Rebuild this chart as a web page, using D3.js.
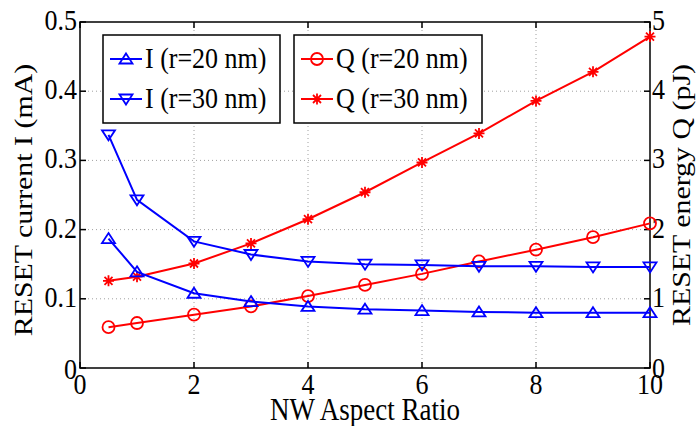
<!DOCTYPE html>
<html>
<head>
<meta charset="utf-8">
<script src="https://cdn.jsdelivr.net/npm/d3@7"></script>
<style>
  body { margin: 0; background: #fff; }
  text { font-family: "Liberation Serif", "DejaVu Serif", serif; fill: #000; }
</style>
</head>
<body>
<div id="chart"></div>
<script>
const aspect = [0.5, 1, 2, 3, 4, 5, 6, 7, 8, 9, 10];
const iR20 = [0.187, 0.139, 0.108, 0.096, 0.089, 0.085, 0.083, 0.081, 0.080, 0.080, 0.080];
const iR30 = [0.337, 0.243, 0.183, 0.164, 0.154, 0.150, 0.149, 0.147, 0.147, 0.146, 0.146];
const qR20 = [0.59, 0.65, 0.77, 0.89, 1.04, 1.20, 1.36, 1.54, 1.71, 1.89, 2.09];
const qR30 = [1.26, 1.32, 1.51, 1.80, 2.15, 2.54, 2.97, 3.39, 3.86, 4.28, 4.79];

const xTicks = [0, 2, 4, 6, 8, 10];
const iTicks = [0, 0.1, 0.2, 0.3, 0.4, 0.5];
const qTicks = [0, 1, 2, 3, 4, 5];

const width = 699, height = 426;
const pLeft = 80, pRight = 650, pTop = 22, pBottom = 368;
const fs = 26, stretch = 1.15;

const svg = d3.select('#chart').append('svg')
    .attr('width', width)
    .attr('height', height);

svg.append('rect').attr('width', width).attr('height', height).attr('fill', '#fff');

const x = d3.scaleLinear().domain([0, 10]).range([pLeft, pRight]);
const yI = d3.scaleLinear().domain([0, 0.5]).range([pBottom, pTop]);
const yQ = d3.scaleLinear().domain([0, 5]).range([pBottom, pTop]);

// text stretched a bit vertically, like the original picture
const label = function (px, py, str, anchor, rot, size) {
    const t = rot ? `translate(${px},${py}) rotate(${rot}) scale(${stretch},1)`
                  : `translate(${px},${py}) scale(1,${stretch})`;
    return svg.append('text')
        .attr('transform', t)
        .attr('text-anchor', anchor)
        .attr('font-size', size || fs)
        .text(str);
};

// grid
const grid = svg.append('g')
    .attr('stroke', '#a0a0a0')
    .attr('stroke-width', 1)
    .attr('stroke-dasharray', '1,3');
xTicks.slice(1, -1).forEach(function (d) {
    grid.append('line').attr('x1', x(d)).attr('x2', x(d)).attr('y1', pTop).attr('y2', pBottom);
});
iTicks.slice(1, -1).forEach(function (d) {
    grid.append('line').attr('x1', pLeft).attr('x2', pRight).attr('y1', yI(d)).attr('y2', yI(d));
});

// box + inward ticks
const axes = svg.append('g').attr('stroke', '#000').attr('stroke-width', 1.5).attr('fill', 'none');
axes.append('rect').attr('x', pLeft).attr('y', pTop).attr('width', pRight - pLeft).attr('height', pBottom - pTop);
xTicks.forEach(function (d) {
    axes.append('line').attr('x1', x(d)).attr('x2', x(d)).attr('y1', pBottom).attr('y2', pBottom - 6);
    axes.append('line').attr('x1', x(d)).attr('x2', x(d)).attr('y1', pTop).attr('y2', pTop + 6);
});
iTicks.forEach(function (d) {
    axes.append('line').attr('x1', pLeft).attr('x2', pLeft + 6).attr('y1', yI(d)).attr('y2', yI(d));
});
qTicks.forEach(function (d) {
    axes.append('line').attr('x1', pRight).attr('x2', pRight - 6).attr('y1', yQ(d)).attr('y2', yQ(d));
});

// tick labels
xTicks.forEach(function (d) {
    label(x(d), 394, d, 'middle');
});
iTicks.forEach(function (d, i) {
    label(77, yI(d) + (i === 0 ? 11 : 8), d === 0 ? '0' : d.toFixed(1), 'end');
});
qTicks.forEach(function (d, i) {
    label(652, yQ(d) + (i === 0 ? 10 : 8), d, 'start');
});

// axis titles
label(365, 420, 'NW Aspect Ratio', 'middle', 0, 27);
label(32, 200, 'RESET current I (mA)', 'middle', -90);
label(690, 195, 'RESET energy Q (pJ)', 'middle', -90);

// markers
const triUp = 'M0,-5.5L6.5,4.5L-6.5,4.5Z';
const triDown = 'M0,5.5L6.5,-4.5L-6.5,-4.5Z';
const star = 'M-5.5,0L5.5,0M0,-5.5L0,5.5M-4,-4L4,4M-4,4L4,-4';

const series = [
    { vals: qR20, y: yQ, color: '#ff0000', marker: 'circle' },
    { vals: qR30, y: yQ, color: '#ff0000', marker: star },
    { vals: iR20, y: yI, color: '#0000ff', marker: triUp },
    { vals: iR30, y: yI, color: '#0000ff', marker: triDown }
];

const drawMarker = function (g, m, px, py, color) {
    if (m === 'circle') {
        g.append('circle').attr('cx', px).attr('cy', py).attr('r', 6)
            .attr('fill', 'none').attr('stroke', color).attr('stroke-width', 1.8);
    } else {
        g.append('path').attr('d', m).attr('transform', `translate(${px},${py})`)
            .attr('fill', 'none').attr('stroke', color).attr('stroke-width', 1.8);
    }
};

series.forEach(function (s) {
    const line = d3.line()
        .x((d, i) => x(aspect[i]))
        .y((d) => s.y(d));
    const g = svg.append('g');
    g.append('path')
        .attr('d', line(s.vals))
        .attr('fill', 'none')
        .attr('stroke', s.color)
        .attr('stroke-width', 2);
    s.vals.forEach(function (d, i) {
        drawMarker(g, s.marker, x(aspect[i]), s.y(d), s.color);
    });
});

// legends
const legends = [
    { x0: 103, x1: 280, items: [['I (r=20 nm)', '#0000ff', triUp], ['I (r=30 nm)', '#0000ff', triDown]] },
    { x0: 294, x1: 482, items: [['Q (r=20 nm)', '#ff0000', 'circle'], ['Q (r=30 nm)', '#ff0000', star]] }
];
legends.forEach(function (lg) {
    const g = svg.append('g');
    g.append('rect').attr('x', lg.x0).attr('y', 35).attr('width', lg.x1 - lg.x0).attr('height', 88)
        .attr('fill', '#fff').attr('stroke', '#000').attr('stroke-width', 1.5);
    lg.items.forEach(function (it, i) {
        const cy = 59 + i * 40;
        g.append('line').attr('x1', lg.x0 + 7).attr('x2', lg.x0 + 39).attr('y1', cy).attr('y2', cy)
            .attr('stroke', it[1]).attr('stroke-width', 2);
        drawMarker(g, it[2], lg.x0 + 23, cy, it[1]);
        label(lg.x0 + 42, cy + 9, it[0], 'start');
    });
});
</script>
</body>
</html>
